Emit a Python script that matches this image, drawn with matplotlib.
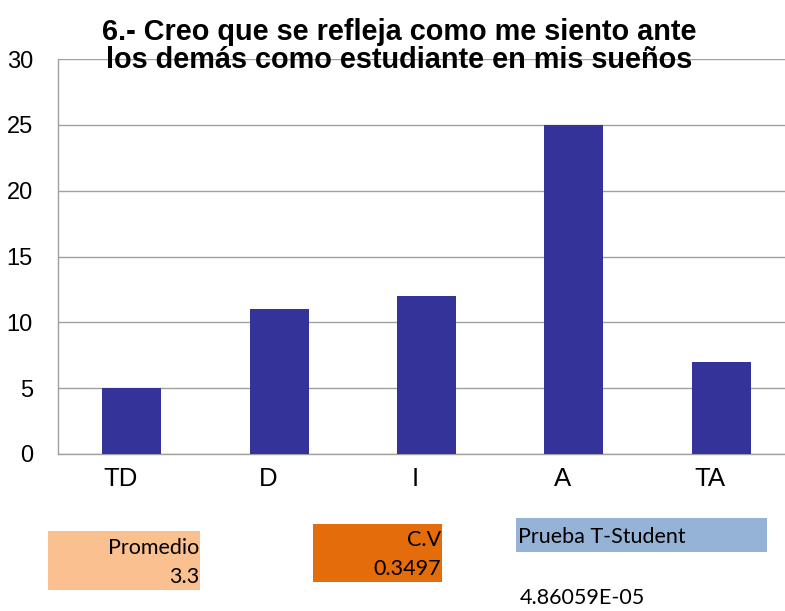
import matplotlib
matplotlib.use("Agg")
import matplotlib.pyplot as plt
import matplotlib.transforms as mtransforms
from matplotlib.patches import Rectangle

# datos de la encuesta
categorias = ['TD', 'D', 'I', 'A', 'TA']
frecuencias = [5, 11, 12, 25, 7]
yticks = [0, 5, 10, 15, 20, 25, 30]

titulo = '6.- Creo que se refleja como me siento ante\nlos demás como estudiante en mis sueños'
promedio = '3.3'
cv = '0.3497'
t_student = '4.86059E-05'

W, H = 785, 611
fig = plt.figure(figsize=(W / 100, H / 100), dpi=100)

# area de la grafica (se sale un poco por la derecha, como el original)
ax = fig.add_axes([58 / W, (H - 454) / H, 737 / W, 395 / H])
x = range(len(categorias))
ax.bar(x, frecuencias, width=0.4, color='#333399', zorder=3)
ax.set_xlim(-0.5, len(categorias) - 0.5)
ax.set_ylim(0, 30)
ax.set_yticks(yticks)
ax.set_xticks(list(x))
ax.set_xticklabels(categorias)
ax.tick_params(axis='y', length=0, labelsize=17, pad=18)
ax.tick_params(axis='x', length=0, labelsize=18.5, pad=9)
desplazar = mtransforms.ScaledTranslation(-11 / 100, 0, fig.dpi_scale_trans)
for lbl in ax.get_xticklabels():
    lbl.set_family('Liberation Sans')
    lbl.set_transform(lbl.get_transform() + desplazar)
for lbl in ax.get_yticklabels():
    lbl.set_family('Liberation Sans')
ax.grid(axis='y', color='#a0a0a0', linewidth=1, zorder=0)
for s in ['top', 'right']:
    ax.spines[s].set_visible(False)
for s in ['left', 'bottom']:
    ax.spines[s].set_color('#a0a0a0')
    ax.spines[s].set_linewidth(1)

fig.text(399 / W, 1 - 46 / H, titulo, ha='center', va='center', fontsize=20.8,
         fontweight='bold', family=['Liberation Sans Narrow', 'Liberation Sans'],
         linespacing=1.0, zorder=5)


# cajas con estadisticas
def caja(x0, y0, x1, y1, color):
    fig.patches.append(Rectangle((x0 / W, 1 - y1 / H), (x1 - x0) / W, (y1 - y0) / H,
                                 transform=fig.transFigure, facecolor=color,
                                 edgecolor='none'))


fuente = ['Lato', 'DejaVu Sans']
caja(48, 531, 200, 590, '#fac090')
fig.text(199 / W, 1 - 548 / H, 'Promedio', ha='right', va='center', fontsize=15.5, family=fuente)
fig.text(199 / W, 1 - 577 / H, promedio, ha='right', va='center', fontsize=15.5, family=fuente)

caja(313, 524, 442, 582, '#e46c0a')
fig.text(441 / W, 1 - 540 / H, 'C.V', ha='right', va='center', fontsize=15.5, family=fuente)
fig.text(441 / W, 1 - 569 / H, cv, ha='right', va='center', fontsize=15.5, family=fuente)

caja(516, 518, 767, 552, '#95b3d7')
fig.text(518 / W, 1 - 537 / H, 'Prueba T-Student', ha='left', va='center', fontsize=15.5, family=fuente)
fig.text(520 / W, 1 - 598 / H, t_student, ha='left', va='center', fontsize=15.5, family=fuente)

fig.savefig('out.png', dpi=100)
